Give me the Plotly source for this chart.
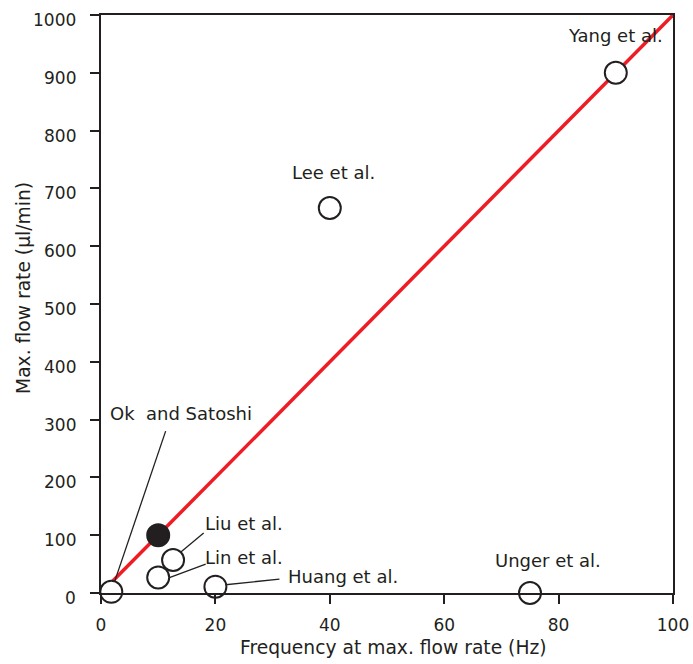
import plotly.graph_objects as go

# Data
names = ["Ok\u00a0 and Satoshi", "Liu et al.", "Lin et al.", "Huang et al.", "Unger et al.", "Lee et al.", "Yang et al."]
freq = [1.8, 12.6, 10, 20, 75, 40, 90]
flow = [2, 57, 27, 11, 0, 666, 900]
this_freq = [10]
this_flow = [100]
fit_x = [1.5, 100]
fit_y = [15, 1000]
x_ticks = [0, 20, 40, 60, 80, 100]
y_ticks = [0, 100, 200, 300, 400, 500, 600, 700, 800, 900, 1000]

# label text anchor positions (data coords) and leader line ends
label_x = [1.2, 17.8, 17.8, 32.3, 78.1, 40.6, 90]
label_y = [310, 121, 62, 28, 56, 727, 965]
label_anchor = ["left", "left", "left", "left", "center", "center", "center"]
leader_from = [(11.3, 280), (17.95, 104), (18.3, 50), (31.2, 24)]
leader_to = [(1.87, 5), (12.76, 61), (10.2, 20), (20.5, 13)]

font = "DejaVu Sans, sans-serif"
ink = "#231f20"

fig = go.Figure()
fig.add_trace(go.Scatter(x=fit_x, y=fit_y, mode="lines",
                         line=dict(color="#ee1c24", width=3.5), showlegend=False, hoverinfo="skip"))
for (x0, y0), (x1, y1) in zip(leader_from, leader_to):
    fig.add_trace(go.Scatter(x=[x0, x1], y=[y0, y1], mode="lines",
                             line=dict(color=ink, width=1.3), showlegend=False, hoverinfo="skip"))
fig.add_trace(go.Scatter(x=freq, y=flow, mode="markers",
                         marker=dict(size=22, color="white", line=dict(color=ink, width=2)),
                         showlegend=False))
fig.add_trace(go.Scatter(x=this_freq, y=this_flow, mode="markers",
                         marker=dict(size=22, color=ink, line=dict(color=ink, width=2)),
                         showlegend=False))

for n, lx, ly, a in zip(names, label_x, label_y, label_anchor):
    fig.add_annotation(x=lx, y=ly, text=n, showarrow=False, xanchor=a, yanchor="middle",
                       font=dict(size=18, color=ink, family=font))

# y tick labels (sit slightly below their ticks, as in the reference)
for v in y_ticks:
    fig.add_annotation(xref="paper", yref="y", x=0, y=v, xshift=-23, yshift=-5, text=str(v),
                       showarrow=False, xanchor="right", yanchor="middle",
                       font=dict(size=17, color=ink, family=font))

# axis titles
fig.add_annotation(xref="paper", yref="paper", x=0.5105, y=0, yshift=-54, xanchor="center", yanchor="middle",
                   text="Frequency at max. flow rate (Hz)", showarrow=False,
                   font=dict(size=18.7, color=ink, family=font))
fig.add_annotation(xref="paper", yref="paper", x=0, xshift=-77, y=0.5277, xanchor="center", yanchor="middle",
                   text="Max. flow rate (µl/min)", showarrow=False, textangle=-90,
                   font=dict(size=18.7, color=ink, family=font))

axis_common = dict(showgrid=False, zeroline=False, showline=True, linecolor=ink, linewidth=2,
                   ticks="outside", ticklen=9, tickwidth=2, tickcolor=ink, mirror=True, automargin=False,
                   ticklabeloverflow="allow",
                   tickfont=dict(size=17, color=ink, family=font))
fig.update_xaxes(range=[0, 100], tickvals=x_ticks, ticklabelstandoff=7, **axis_common)
fig.update_yaxes(range=[0, 1000], tickvals=y_ticks, showticklabels=False, **axis_common)
fig.update_layout(width=693, height=664, margin=dict(l=101, r=20, t=15, b=71),
                  plot_bgcolor="white", paper_bgcolor="white")
fig.update_traces(cliponaxis=False)
fig.write_html("out.html", config={"displayModeBar": False},
               post_script="document.body.style.margin='0';document.body.style.overflow='hidden';")
